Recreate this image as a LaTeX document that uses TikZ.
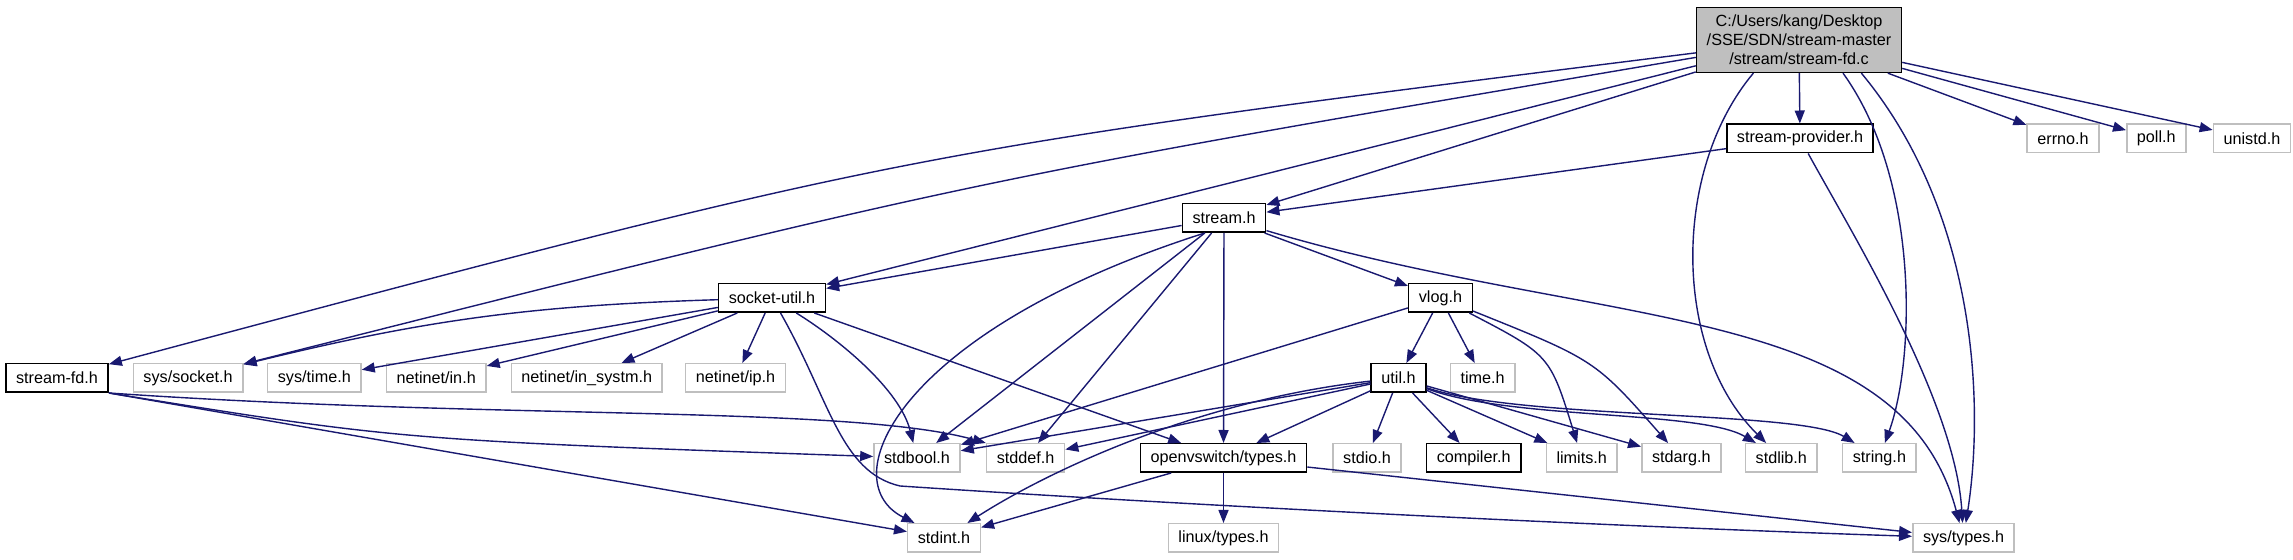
\documentclass[tikz,border=0pt]{standalone}
\usepackage{fontspec}
\setmainfont{Liberation Sans}
\usepackage{xcolor}
\usetikzlibrary{arrows.meta,positioning}
\definecolor{EdgeBlue}{RGB}{25,25,112}
\definecolor{ExtGrey}{RGB}{191,191,191}

\begin{document}
\begin{tikzpicture}[x=0.5pt,y=-0.5pt,>={Triangle[length=6.5pt,width=5pt]},every node/.style={font=\fontsize{8.1}{9.5}\selectfont}]
\tikzset{docnode/.style={draw=black,line width=0.75pt,fill=white,inner xsep=5.1pt,inner ysep=2pt,minimum height=14.25pt},extnode/.style={docnode,draw=ExtGrey},dep/.style={->,draw=EdgeBlue,line width=0.7pt}}
\useasboundingbox (0,0) rectangle (2293,560);
\node[docnode,fill=ExtGrey,align=center,minimum height=32.4pt] (main) at (1799,40) {C:/Users/kang/Desktop\\/SSE/SDN/stream-master\\/stream/stream-fd.c};
\node[docnode] (provider) at (1800,138.5) {stream-provider.h};
\node[extnode] (errno) at (2063,138.5) {errno.h};
\node[extnode,right=13.2pt of errno] (poll) {poll.h};
\node[extnode,right=13pt of poll] (unistd) {unistd.h};
\node[docnode] (stream) at (1224,218) {stream.h};
\node[docnode] (sockutil) at (772,298) {socket-util.h};
\node[docnode] (vlog) at (1440.5,298) {vlog.h};
\node[docnode] (streamfd) at (57,378) {stream-fd.h};
\node[extnode,right=11.8pt of streamfd] (syssocket) {sys/socket.h};
\node[extnode,right=11.7pt of syssocket] (systime) {sys/time.h};
\node[extnode,right=11.9pt of systime] (netin) {netinet/in.h};
\node[extnode,right=11.9pt of netin] (insystm) {netinet/in\_systm.h};
\node[extnode,right=11pt of insystm] (netip) {netinet/ip.h};
\node[docnode] (util) at (1398.5,378) {util.h};
\node[extnode,right=11.5pt of util] (time) {time.h};
\node[extnode] (stdbool) at (917,458) {stdbool.h};
\node[extnode,right=12.5pt of stdbool] (stddef) {stddef.h};
\node[docnode] (ovstypes) at (1223.5,458) {openvswitch/types.h};
\node[extnode,right=12.4pt of ovstypes] (stdio) {stdio.h};
\node[docnode,right=12pt of stdio] (compiler) {compiler.h};
\node[extnode,right=12pt of compiler] (limits) {limits.h};
\node[extnode,right=11.6pt of limits] (stdarg) {stdarg.h};
\node[extnode,right=11.6pt of stdarg] (stdlib) {stdlib.h};
\node[extnode,right=12pt of stdlib] (string) {string.h};
\node[extnode] (stdint) at (944,538) {stdint.h};
\node[extnode,below=25pt of ovstypes] (linuxtypes) {linux/types.h};
\node[extnode] (systypes) at (1963.5,538) {sys/types.h};
\draw[dep] (main) .. controls (903,152) .. (streamfd);
\draw[dep] (main) .. controls (972,180) .. (syssocket);
\draw[dep] (main) -- (sockutil);
\draw[dep] (main) -- (stream);
\draw[dep] (main) -- (provider);
\draw[dep] (main.-144) .. controls (1672,170) and (1672,350) .. (stdlib);
\draw[dep] (main.-37) .. controls (1920,180) and (1915,360) .. (string);
\draw[dep] (main.-28) .. controls (1975,210) and (1985,400) .. (systypes);
\draw[dep] (main) -- (errno);
\draw[dep] (main) -- (poll);
\draw[dep] (main) -- (unistd);
\draw[dep] (provider) -- (stream);
\draw[dep] (provider) .. controls (1850,230) and (1955,400) .. (systypes);
\draw[dep] (stream) -- (sockutil);
\draw[dep] (stream.-142) .. controls (900,330) and (830,480) .. (stdint);
\draw[dep] (stream) -- (stdbool);
\draw[dep] (stream) -- (stddef);
\draw[dep] (stream) -- (ovstypes);
\draw[dep] (stream) -- (vlog);
\draw[dep] (stream) .. controls (1600,330) and (1900,300) .. (systypes);
\draw[dep] (sockutil) to[bend right=6] (syssocket);
\draw[dep] (sockutil) -- (systime);
\draw[dep] (sockutil) -- (netin);
\draw[dep] (sockutil) -- (insystm);
\draw[dep] (sockutil) -- (netip);
\draw[dep] (sockutil) .. controls (840,340) and (900,390) .. (stdbool);
\draw[dep] (sockutil) -- (ovstypes);
\draw[dep] (sockutil) .. controls (830,400) and (840,472) .. (900,486) .. controls (1200,506) and (1600,526) .. (systypes);
\draw[dep] (vlog) -- (util);
\draw[dep] (vlog) -- (time);
\draw[dep] (vlog) .. controls (1550,355) .. (limits);
\draw[dep] (vlog) .. controls (1595,360) .. (stdarg);
\draw[dep] (vlog) -- (stdbool);
\draw[dep] (util) -- (stdbool);
\draw[dep] (util) -- (stddef);
\draw[dep] (util) .. controls (1200,400) and (1050,470) .. (stdint);
\draw[dep] (util) -- (ovstypes);
\draw[dep] (util) -- (stdio);
\draw[dep] (util) -- (compiler);
\draw[dep] (util) -- (limits);
\draw[dep] (util) -- (stdarg);
\draw[dep] (util) .. controls (1510,420) and (1700,410) .. (stdlib);
\draw[dep] (util) .. controls (1520,420) and (1800,410) .. (string);
\draw[dep] (ovstypes) -- (stdint);
\draw[dep] (ovstypes) -- (linuxtypes);
\draw[dep] (ovstypes) -- (systypes);
\draw[dep] (streamfd.south east) .. controls (400,440) .. (stdbool);
\draw[dep] (streamfd.south east) .. controls (500,420) and (850,405) .. (stddef.north west);
\draw[dep] (streamfd.south east) -- (stdint);
\end{tikzpicture}
\end{document}
